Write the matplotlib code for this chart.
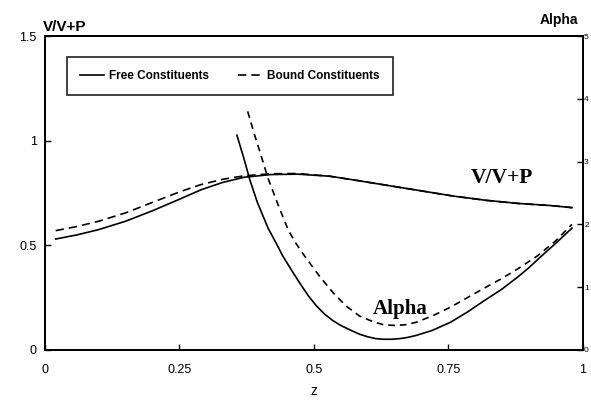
import matplotlib
matplotlib.use('Agg')
import matplotlib.pyplot as plt

# V/V+P curves (left axis)
z_vp = [0.02, 0.06, 0.10, 0.15, 0.20, 0.25, 0.29, 0.33, 0.37, 0.42, 0.47, 0.53,
        0.58, 0.64, 0.70, 0.76, 0.82, 0.88, 0.94, 0.98]
vp_free = [0.53, 0.55, 0.575, 0.615, 0.665, 0.72, 0.765, 0.80, 0.825, 0.838, 0.84, 0.83,
           0.81, 0.785, 0.76, 0.735, 0.715, 0.70, 0.69, 0.68]
vp_bound = [0.57, 0.59, 0.615, 0.655, 0.705, 0.755, 0.79, 0.815, 0.832, 0.842, 0.843, 0.83,
            0.81, 0.785, 0.76, 0.735, 0.715, 0.70, 0.69, 0.68]

# Alpha curves (right axis)
z_af = [0.357, 0.37, 0.381, 0.395, 0.415, 0.43, 0.442, 0.46, 0.475, 0.49, 0.505, 0.52,
        0.535, 0.55, 0.567, 0.585, 0.60, 0.615, 0.63, 0.645, 0.66, 0.675, 0.69, 0.72,
        0.754, 0.785, 0.816, 0.85, 0.879, 0.90, 0.92, 0.95, 0.98]
alpha_free = [3.42, 3.05, 2.71, 2.35, 1.94, 1.70, 1.50, 1.25, 1.05, 0.86, 0.70, 0.57,
              0.47, 0.39, 0.32, 0.25, 0.21, 0.18, 0.17, 0.17, 0.18, 0.20, 0.23, 0.31,
              0.44, 0.60, 0.78, 0.97, 1.16, 1.31, 1.47, 1.70, 1.94]
z_ab = [0.377, 0.39, 0.40, 0.415, 0.435, 0.452, 0.465, 0.48, 0.51, 0.537, 0.56, 0.585,
        0.61, 0.63, 0.65, 0.67, 0.69, 0.72, 0.754, 0.785, 0.816, 0.85, 0.879, 0.916,
        0.95, 0.98]
alpha_bound = [3.80, 3.42, 3.15, 2.73, 2.28, 1.92, 1.72, 1.53, 1.18, 0.90, 0.70, 0.54,
               0.45, 0.40, 0.39, 0.40, 0.44, 0.54, 0.68, 0.83, 0.98, 1.14, 1.29, 1.50,
               1.74, 2.00]

x_ticks = [0, 0.25, 0.5, 0.75, 1]
x_labels = ['0', '0.25', '0.5', '0.75', '1']
left_ticks = [0, 0.5, 1, 1.5]
left_labels = ['0', '0.5', '1', '1.5']
right_ticks = [0, 1, 2, 3, 4, 5]

sans = 'Liberation Sans'
serif = 'Liberation Serif'

fig = plt.figure(figsize=(5.91, 4.05), dpi=100)
ax = fig.add_axes([0.076, 0.136, 0.910, 0.775])
ax2 = ax.twinx()

ax.plot(z_vp, vp_free, color='black', lw=1.2, label='Free Constituents')
ax.plot(z_vp, vp_bound, color='black', lw=1.2, dashes=(5, 3), label='Bound Constituents')
ax2.plot(z_af, alpha_free, color='black', lw=1.2)
ax2.plot(z_ab, alpha_bound, color='black', lw=1.2, dashes=(4, 3))

ax.set_xlim(0, 1)
ax.set_ylim(0, 1.5)
ax2.set_ylim(0, 5)

ax.set_xticks(x_ticks)
ax.set_xticklabels(x_labels, fontfamily=sans, fontsize=9)
ax.set_yticks(left_ticks)
ax.set_yticklabels(left_labels, fontfamily=sans, fontsize=9)
ax2.set_yticks(right_ticks)
ax2.set_yticklabels([str(t) for t in right_ticks], fontfamily=sans, fontsize=6)

ax.tick_params(axis='x', direction='in', length=4, width=1, pad=10)
ax.tick_params(axis='y', direction='in', length=4, width=1, pad=6)
ax2.tick_params(direction='in', length=4, width=1, pad=1)
for a in (ax, ax2):
    for s in a.spines.values():
        s.set_linewidth(1.4)

ax.set_xlabel('z', fontfamily=sans, fontsize=10, labelpad=6)

fig.text(0.073, 0.933, 'V/V+P', fontfamily=sans, fontsize=11, fontweight='bold', ha='left', va='center')
fig.text(0.946, 0.951, 'Alpha', fontfamily=sans, fontsize=10, fontweight='bold', ha='center', va='center')

ax.text(0.85, 0.82, 'V/V+P', fontfamily=serif, fontsize=15.5, fontweight='bold', ha='center', va='center')
ax2.text(0.66, 0.65, 'Alpha', fontfamily=serif, fontsize=15, fontweight='bold', ha='center', va='center')

leg = ax.legend(ncol=2, loc='upper left', bbox_to_anchor=(0.041, 0.934), frameon=True,
                fancybox=False, handlelength=2.0, handletextpad=0.5, columnspacing=2.4,
                borderpad=1.1, borderaxespad=0,
                prop={'family': sans, 'size': 8.5, 'weight': 'bold'})
leg.get_frame().set_edgecolor('black')
leg.get_frame().set_linewidth(1.3)

fig.savefig('out.png', dpi=100)
